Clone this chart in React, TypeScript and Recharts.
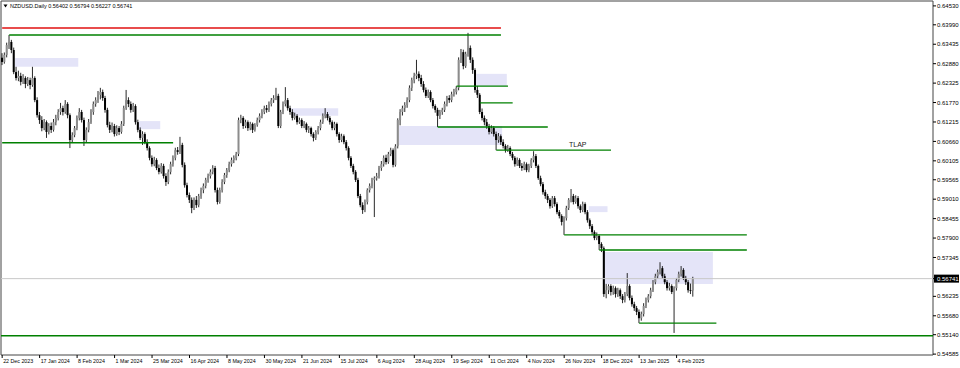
import React from 'react';
import { ComposedChart, Bar, XAxis, YAxis, ReferenceLine, ReferenceArea } from 'recharts';

// NZDUSD daily candles, prices in pips (x 0.0001)
const opens = [
  6305, 6293, 6313, 6341, 6350, 6327, 6264, 6247, 6253, 6236,
  6247, 6230, 6241, 6227, 6247, 6184, 6141, 6127, 6104, 6121,
  6093, 6110, 6099, 6121, 6133, 6150, 6161, 6150, 6173, 6141,
  6070, 6084, 6104, 6133, 6150, 6127, 6070, 6099, 6121, 6150,
  6173, 6184, 6199, 6207, 6190, 6156, 6113, 6099, 6110, 6087,
  6104, 6093, 6116, 6161, 6184, 6173, 6156, 6167, 6121, 6099,
  6076, 6087, 6064, 6047, 6019, 6001, 6013, 5990, 5979, 5996,
  5967, 5950, 5979, 6001, 6019, 6041, 6036, 6056, 5999, 5941,
  5913, 5899, 5876, 5899, 5884, 5910, 5927, 5939, 5956, 5967,
  5979, 5990, 5927, 5893, 5927, 5950, 5970, 5984, 6001, 6013,
  6019, 6030, 6127, 6133, 6110, 6121, 6104, 6116, 6099, 6113,
  6127, 6139, 6150, 6161, 6156, 6173, 6184, 6190, 6196, 6110,
  6150, 6173, 6184, 6161, 6150, 6133, 6139, 6121, 6127, 6110,
  6116, 6099, 6104, 6087, 6076, 6093, 6104, 6121, 6139, 6144,
  6133, 6121, 6104, 6116, 6087, 6070, 6081, 6064, 6047, 6019,
  5996, 5979, 5956, 5910, 5884, 5870, 5893, 5927, 5939, 5956,
  5961, 5967, 5990, 6001, 6019, 6007, 6030, 6041, 5999, 6052,
  6127, 6150, 6161, 6170, 6184, 6219, 6241, 6253, 6259, 6247,
  6230, 6213, 6196, 6207, 6184, 6167, 6156, 6139, 6150, 6156,
  6173, 6190, 6184, 6201, 6207, 6219, 6299, 6321, 6281, 6316,
  6333, 6299, 6270, 6213, 6199, 6150, 6133, 6121, 6110, 6093,
  6104, 6087, 6070, 6081, 6064, 6053, 6041, 6047, 6030, 6019,
  6001, 6013, 5996, 5990, 6001, 5984, 5996, 6013, 6024, 5996,
  5961, 5944, 5921, 5910, 5899, 5881, 5904, 5887, 5864, 5853,
  5836, 5847, 5876, 5899, 5910, 5893, 5904, 5881, 5870, 5887,
  5864, 5841, 5824, 5807, 5790, 5796, 5773, 5761, 5630, 5641,
  5653, 5636, 5647, 5630, 5641, 5624, 5613, 5630, 5653, 5619,
  5601, 5590, 5579, 5561, 5573, 5596, 5613, 5624, 5641, 5664,
  5681, 5693, 5704, 5681, 5664, 5647, 5653, 5636, 5647, 5670,
  5687, 5699, 5676, 5664, 5641, 5640.2,
];
const highs = [
  6318, 6320, 6348, 6370, 6356, 6334, 6279, 6268, 6262, 6258,
  6252, 6250, 6248, 6279, 6252, 6192, 6150, 6138, 6130, 6126,
  6118, 6120, 6130, 6142, 6158, 6176, 6168, 6184, 6178, 6146,
  6092, 6110, 6140, 6161, 6156, 6134, 6106, 6130, 6158, 6180,
  6192, 6210, 6219, 6214, 6196, 6162, 6122, 6120, 6116, 6112,
  6110, 6124, 6168, 6213, 6192, 6180, 6176, 6172, 6128, 6106,
  6095, 6092, 6072, 6052, 6026, 6022, 6018, 6000, 6004, 6002,
  5975, 5986, 6008, 6026, 6048, 6050, 6079, 6062, 6006, 5948,
  5920, 5906, 5906, 5910, 5916, 5934, 5946, 5962, 5974, 5986,
  5998, 5996, 5934, 5934, 5958, 5976, 5990, 6008, 6020, 6026,
  6036, 6134, 6142, 6138, 6128, 6126, 6122, 6120, 6118, 6134,
  6146, 6158, 6168, 6170, 6180, 6190, 6198, 6219, 6202, 6156,
  6180, 6221, 6190, 6168, 6158, 6148, 6144, 6134, 6132, 6124,
  6120, 6110, 6108, 6092, 6098, 6110, 6128, 6146, 6161, 6150,
  6138, 6126, 6122, 6120, 6092, 6088, 6086, 6070, 6052, 6024,
  6002, 5984, 5962, 5916, 5892, 5900, 5932, 5946, 5962, 5966,
  5976, 5996, 6010, 6026, 6028, 6036, 6048, 6046, 6058, 6132,
  6158, 6168, 6178, 6192, 6226, 6248, 6262, 6299, 6266, 6256,
  6238, 6220, 6214, 6212, 6190, 6172, 6162, 6156, 6162, 6180,
  6196, 6198, 6208, 6216, 6224, 6306, 6330, 6328, 6322, 6376,
  6340, 6306, 6275, 6224, 6204, 6160, 6140, 6130, 6116, 6112,
  6110, 6094, 6090, 6086, 6072, 6058, 6056, 6052, 6036, 6024,
  6020, 6018, 6004, 6008, 6006, 6002, 6018, 6038, 6030, 6000,
  5968, 5950, 5928, 5916, 5904, 5910, 5910, 5892, 5870, 5858,
  5852, 5882, 5904, 5930, 5916, 5912, 5910, 5886, 5894, 5892,
  5870, 5846, 5830, 5812, 5806, 5800, 5778, 5766, 5659, 5658,
  5658, 5654, 5652, 5648, 5646, 5630, 5636, 5690, 5658, 5626,
  5608, 5596, 5586, 5580, 5604, 5620, 5630, 5648, 5670, 5688,
  5700, 5721, 5710, 5688, 5670, 5662, 5658, 5652, 5676, 5694,
  5710, 5704, 5682, 5670, 5660, 5679.4,
];
const lows = [
  6284, 6288, 6306, 6330, 6318, 6258, 6240, 6238, 6226, 6230,
  6218, 6224, 6215, 6222, 6178, 6134, 6116, 6095, 6098, 6076,
  6086, 6090, 6094, 6112, 6126, 6142, 6140, 6145, 6132, 6047,
  6062, 6078, 6098, 6126, 6120, 6053, 6064, 6092, 6116, 6142,
  6165, 6176, 6186, 6182, 6148, 6106, 6090, 6092, 6080, 6082,
  6084, 6088, 6110, 6156, 6164, 6148, 6150, 6114, 6092, 6070,
  6056, 6058, 6040, 6012, 5994, 5995, 5984, 5972, 5974, 5960,
  5939, 5944, 5972, 5994, 6012, 6028, 6030, 5992, 5934, 5906,
  5890, 5861, 5870, 5876, 5878, 5902, 5918, 5932, 5948, 5960,
  5972, 5920, 5886, 5888, 5920, 5944, 5962, 5978, 5994, 6004,
  6012, 6024, 6118, 6102, 6104, 6096, 6098, 6090, 6094, 6108,
  6120, 6132, 6144, 6148, 6150, 6166, 6176, 6184, 6104, 6104,
  6144, 6166, 6154, 6142, 6126, 6128, 6114, 6116, 6104, 6104,
  6092, 6090, 6080, 6066, 6070, 6086, 6098, 6116, 6132, 6126,
  6114, 6098, 6098, 6080, 6062, 6064, 6058, 6040, 6012, 5990,
  5972, 5950, 5904, 5878, 5859, 5864, 5886, 5920, 5932, 5850,
  5954, 5960, 5982, 5994, 6000, 6002, 6024, 5992, 5994, 6046,
  6112, 6140, 6150, 6162, 6178, 6210, 6232, 6244, 6238, 6222,
  6206, 6190, 6190, 6178, 6160, 6148, 6107, 6130, 6142, 6150,
  6166, 6176, 6178, 6194, 6200, 6212, 6290, 6272, 6276, 6308,
  6290, 6259, 6205, 6190, 6144, 6126, 6112, 6102, 6086, 6088,
  6080, 6041, 6062, 6056, 6046, 6034, 6036, 6024, 6012, 5994,
  5996, 5990, 5982, 5984, 5978, 5978, 5990, 6006, 5990, 5956,
  5938, 5914, 5902, 5890, 5874, 5876, 5880, 5858, 5846, 5826,
  5799, 5840, 5870, 5892, 5886, 5888, 5874, 5862, 5864, 5858,
  5834, 5816, 5800, 5784, 5784, 5756, 5750, 5622, 5618, 5630,
  5626, 5628, 5620, 5622, 5616, 5604, 5606, 5624, 5612, 5594,
  5582, 5570, 5547, 5554, 5566, 5590, 5606, 5618, 5636, 5658,
  5674, 5686, 5674, 5658, 5640, 5640, 5630, 5519, 5640, 5664,
  5680, 5670, 5656, 5634, 5630, 5622.7,
];
const closes = [
  6293, 6313, 6341, 6350, 6327, 6264, 6247, 6253, 6236, 6247,
  6230, 6241, 6227, 6247, 6184, 6141, 6127, 6104, 6121, 6093,
  6110, 6099, 6121, 6133, 6150, 6161, 6150, 6173, 6141, 6070,
  6084, 6104, 6133, 6150, 6127, 6070, 6099, 6121, 6150, 6173,
  6184, 6199, 6207, 6190, 6156, 6113, 6099, 6110, 6087, 6104,
  6093, 6116, 6161, 6184, 6173, 6156, 6167, 6121, 6099, 6076,
  6087, 6064, 6047, 6019, 6001, 6013, 5990, 5979, 5996, 5967,
  5950, 5979, 6001, 6019, 6041, 6036, 6056, 5999, 5941, 5913,
  5899, 5876, 5899, 5884, 5910, 5927, 5939, 5956, 5967, 5979,
  5990, 5927, 5893, 5927, 5950, 5970, 5984, 6001, 6013, 6019,
  6030, 6127, 6133, 6110, 6121, 6104, 6116, 6099, 6113, 6127,
  6139, 6150, 6161, 6156, 6173, 6184, 6190, 6196, 6110, 6150,
  6173, 6184, 6161, 6150, 6133, 6139, 6121, 6127, 6110, 6116,
  6099, 6104, 6087, 6076, 6093, 6104, 6121, 6139, 6144, 6133,
  6121, 6104, 6116, 6087, 6070, 6081, 6064, 6047, 6019, 5996,
  5979, 5956, 5910, 5884, 5870, 5893, 5927, 5939, 5956, 5961,
  5967, 5990, 6001, 6019, 6007, 6030, 6041, 5999, 6052, 6127,
  6150, 6161, 6170, 6184, 6219, 6241, 6253, 6259, 6247, 6230,
  6213, 6196, 6207, 6184, 6167, 6156, 6139, 6150, 6156, 6173,
  6190, 6184, 6201, 6207, 6219, 6299, 6321, 6281, 6316, 6333,
  6299, 6270, 6213, 6199, 6150, 6133, 6121, 6110, 6093, 6104,
  6087, 6070, 6081, 6064, 6053, 6041, 6047, 6030, 6019, 6001,
  6013, 5996, 5990, 6001, 5984, 5996, 6013, 6024, 5996, 5961,
  5944, 5921, 5910, 5899, 5881, 5904, 5887, 5864, 5853, 5836,
  5847, 5876, 5899, 5910, 5893, 5904, 5881, 5870, 5887, 5864,
  5841, 5824, 5807, 5790, 5796, 5773, 5761, 5630, 5641, 5653,
  5636, 5647, 5630, 5641, 5624, 5613, 5630, 5653, 5619, 5601,
  5590, 5579, 5561, 5573, 5596, 5613, 5624, 5641, 5664, 5681,
  5693, 5704, 5681, 5664, 5647, 5653, 5636, 5647, 5670, 5687,
  5699, 5676, 5664, 5641, 5640.2, 5674.1,
];

// x-axis date labels and the bar index they sit on
const dateLabels = [
  '22 Dec 2023', '17 Jan 2024', '8 Feb 2024', '1 Mar 2024', '25 Mar 2024', '16 Apr 2024',
  '8 May 2024', '30 May 2024', '21 Jun 2024', '15 Jul 2024', '6 Aug 2024', '28 Aug 2024',
  '19 Sep 2024', '11 Oct 2024', '4 Nov 2024', '26 Nov 2024', '18 Dec 2024', '13 Jan 2025', '4 Feb 2025',
];
const dateTickIdx = [0, 16, 32, 48, 64, 80, 96, 112, 128, 144, 160, 176, 192, 208, 224, 240, 256, 272, 288];

// price scale tick labels
const priceTicks = [
  0.6453, 0.6399, 0.63435, 0.6288, 0.62325, 0.6177, 0.61215, 0.6066, 0.60105,
  0.59565, 0.5901, 0.58455, 0.579, 0.57345, 0.56235, 0.5568, 0.5514, 0.54585,
];
const currentPrice = 0.56741;
const titleText = 'NZDUSD.Daily  0.56402 0.56794 0.56227 0.56741';

// drawn objects (bar indices, prices in pips)
const zones = [
  { x1: 6, x2: 32, top: 6304, bottom: 6279 },
  { x1: 59, x2: 67, top: 6124, bottom: 6101 },
  { x1: 124, x2: 143, top: 6161, bottom: 6139 },
  { x1: 170, x2: 213, top: 6110, bottom: 6056 },
  { x1: 203, x2: 215, top: 6259, bottom: 6224 },
  { x1: 251, x2: 258, top: 5881, bottom: 5864 },
  { x1: 257, x2: 303, top: 5750, bottom: 5659 },
];
const greenLevels = [
  { from: 3, to: 213, price: 6370, label: '' },
  { from: 0, to: 73, price: 6062, label: '' },
  { from: 194, to: 216, price: 6224, label: '' },
  { from: 204, to: 218, price: 6176, label: '' },
  { from: 186, to: 233, price: 6107, label: '' },
  { from: 211, to: 260, price: 6041, label: 'TLAP' },
  { from: 240, to: 318, price: 5799, label: '' },
  { from: 255, to: 318, price: 5756, label: '' },
  { from: 272, to: 305, price: 5547, label: '' },
];
const redLevel = { from: 0, to: 213, price: 6390 };
const bottomLevel = 5511;

const SLOTS = 398;
const Y_MIN = 0.5456;
const Y_MAX = 0.6467;
const FONT = 'Liberation Sans, Arial, sans-serif';

const data = Array.from({ length: SLOTS }, (_, i) =>
  i < closes.length
    ? { i, o: opens[i] / 10000, h: highs[i] / 10000, l: lows[i] / 10000, c: closes[i] / 10000 }
    : { i, o: null, h: null, l: null, c: null }
);

const Candle = (props: any) => {
  const { x, y, width, height, payload } = props;
  if (!payload || payload.h == null || y == null || height == null) return null;
  const top = Math.min(y, y + height);
  const bot = Math.max(y, y + height);
  const k = (bot - top) / (payload.h - payload.l || 1);
  const yo = top + (payload.h - payload.o) * k;
  const yc = top + (payload.h - payload.c) * k;
  const cx = x + width / 2;
  const bull = payload.c >= payload.o;
  const bTop = Math.min(yo, yc);
  const bH = Math.max(Math.abs(yc - yo), 0.8);
  return (
    <g>
      <line x1={cx} x2={cx} y1={top} y2={bot} stroke="#111" strokeWidth={0.9} />
      <rect x={cx - 1} y={bTop} width={2} height={bH} fill={bull ? '#8c8c8c' : '#000'} />
    </g>
  );
};

const XTick = (props: any) => {
  const { x, y, payload } = props;
  const k = dateTickIdx.indexOf(payload.value);
  if (k < 0) return null;
  return (
    <g>
      <line x1={x} x2={x} y1={y} y2={y + 3} stroke="#000" strokeWidth={1} />
      <text x={x + 1} y={y + 8} fontSize={5.3} fontFamily={FONT} fill="#000">{dateLabels[k]}</text>
    </g>
  );
};

const YTick = (props: any) => {
  const { x, y, payload } = props;
  const cur = payload.value === currentPrice;
  return (
    <g>
      <line x1={x} x2={x + 3} y1={y} y2={y} stroke="#000" strokeWidth={1} />
      {cur && <rect x={x + 1} y={y - 4} width={25} height={8} fill="#000" />}
      <text x={x + 4} y={y} dy="0.35em" fontSize={6} fontFamily={FONT} fill={cur ? '#fff' : '#000'}>
        {payload.value.toFixed(5)}
      </text>
    </g>
  );
};

const tlapLabel = (p: any) => {
  const vb = p.viewBox || {};
  const x = (vb.x ?? 0) + (vb.width ?? 0) * 0.71;
  const y = (vb.y ?? 0) - 3;
  return (
    <text x={x} y={y} textAnchor="middle" fontSize={7} fontFamily={FONT} fill="#222">TLAP</text>
  );
};

export default function App() {
  return (
    <div style={{ position: 'absolute', left: 0, top: 0, width: 960, height: 368, background: '#fff' }}>
      <ComposedChart
        width={960}
        height={368}
        data={data}
        margin={{ top: 1, right: 0, left: 1, bottom: 0 }}
        barCategoryGap={0}
      >
        <XAxis
          dataKey="i"
          type="category"
          ticks={dateTickIdx}
          interval={0}
          tick={<XTick />}
          tickLine={false}
          axisLine={false}
          tickSize={0}
          tickMargin={0}
          height={13}
        />
        <YAxis
          orientation="right"
          type="number"
          domain={[Y_MIN, Y_MAX]}
          allowDataOverflow
          ticks={[...priceTicks, currentPrice]}
          interval={0}
          tick={<YTick />}
          tickLine={false}
          axisLine={false}
          tickSize={0}
          tickMargin={0}
          width={27}
        />
        {zones.map((z, k) => (
          <ReferenceArea
            key={'z' + k}
            x1={z.x1}
            x2={z.x2}
            y1={z.top / 10000}
            y2={z.bottom / 10000}
            fill="#E4E4F8"
            fillOpacity={1}
            stroke="none"
            ifOverflow="visible"
          />
        ))}
        <ReferenceLine y={currentPrice} stroke="#c8c8c8" strokeWidth={1} ifOverflow="visible" />
        <Bar
          dataKey={(d: any) => (d.h == null ? null : [d.l, d.h])}
          shape={<Candle />}
          isAnimationActive={false}
        />
        <ReferenceLine
          segment={[{ x: redLevel.from, y: redLevel.price / 10000 }, { x: redLevel.to, y: redLevel.price / 10000 }]}
          stroke="#e01010"
          strokeWidth={1.5}
          ifOverflow="visible"
        />
        {greenLevels.map((g, k) => (
          <ReferenceLine
            key={'g' + k}
            segment={[{ x: g.from, y: g.price / 10000 }, { x: g.to, y: g.price / 10000 }]}
            stroke="#008000"
            strokeWidth={1.4}
            ifOverflow="visible"
            label={g.label ? tlapLabel : undefined}
          />
        ))}
        <ReferenceLine y={bottomLevel / 10000} stroke="#008000" strokeWidth={1.4} ifOverflow="visible" />
        <ReferenceArea y1={Y_MAX} y2={Y_MIN} fill="none" stroke="#444" strokeWidth={1} ifOverflow="visible" />
      </ComposedChart>
      <svg width={200} height={14} style={{ position: 'absolute', left: 0, top: 0 }}>
        <path d="M3.5,4.5 L7.5,4.5 L5.5,7.5 Z" fill="#000" />
        <text x={10} y={8} fontSize={5.5} fontFamily={FONT} fill="#000">{titleText}</text>
      </svg>
    </div>
  );
}
